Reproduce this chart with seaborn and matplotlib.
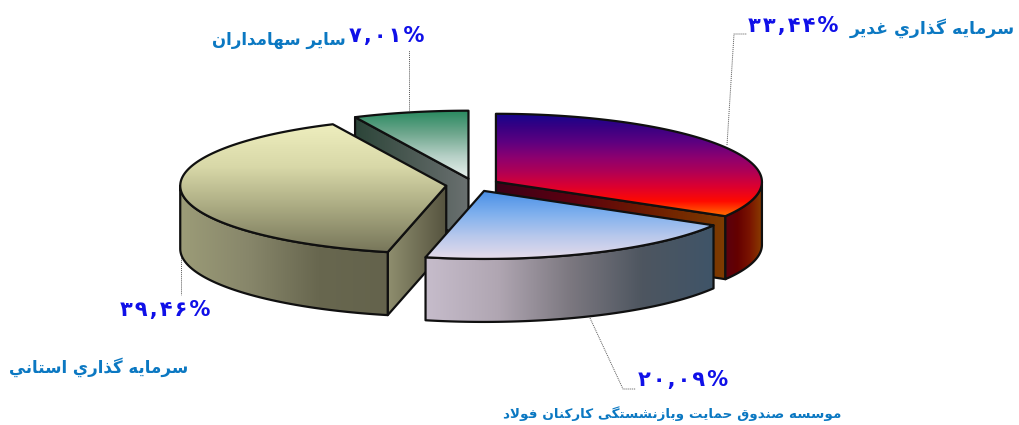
import numpy as np
import seaborn as sns
import matplotlib.pyplot as plt
from matplotlib.patches import Polygon

# shares clockwise from 12 o'clock
names = ['سرمايه گذاري غدير', 'موسسه صندوق حمایت وبازنشستگی کارکنان فولاد', 'سرمايه گذاري استاني', 'سایر سهامداران']
shares = [33.44, 20.09, 39.46, 7.01]
pct_labels = ['۳۳,۴۴%', '۲۰,۰۹%', '۳۹,۴۶%', '۷,۰۱%']

top_colors = [
    ['#14058c', '#3a0082', '#5e0080', '#8c0070', '#b00055', '#dc0030', '#ff0a00', '#ff7000'],
    ['#4a8fe6', '#7fb0ee', '#b8c8ec', '#e6dcea'],
    ['#eeeebe', '#d8d8a8', '#a8a880', '#77765a'],
    ['#2a8a60', '#6fa78e', '#b6d0c6', '#eaf2ef'],
]
rim_colors = [
    ['#8a3c00', '#7a1400', '#640000', '#5a0010'],
    ['#c6bccb', '#b0a6b2', '#7c7880', '#4e5660', '#3f5468'],
    ['#9c9c78', '#87866a', '#68674f', '#64634c'],
    None,
]
face_colors = [
    ['#3c0018', '#5c0010', '#6e1c00', '#7e3c00'],
    None,
    ['#8f8e6e', '#55533f'],
    ['#2c4539', '#4c5a54', '#6a7070'],
]

# forms: isolated, final, initial, medial
forms = {
    'ا': 'ﺍﺎ', 'د': 'ﺩﺪ', 'ذ': 'ﺫﺬ', 'ر': 'ﺭﺮ', 'ز': 'ﺯﺰ', 'و': 'ﻭﻮ',
    'ب': 'ﺏﺐﺑﺒ', 'ت': 'ﺕﺖﺗﺘ', 'ح': 'ﺡﺢﺣﺤ', 'س': 'ﺱﺲﺳﺴ', 'ش': 'ﺵﺶﺷﺸ',
    'ص': 'ﺹﺺﺻﺼ', 'غ': 'ﻍﻎﻏﻐ', 'ف': 'ﻑﻒﻓﻔ', 'ق': 'ﻕﻖﻗﻘ', 'ل': 'ﻝﻞﻟﻠ',
    'م': 'ﻡﻢﻣﻤ', 'ن': 'ﻥﻦﻧﻨ', 'ه': 'ﻩﻪﻫﻬ', 'ي': 'ﻱﻲﻳﻴ', 'ی': 'ﯼﯽﯾﯿ',
    'ک': 'ﮎﮏﮐﮑ', 'گ': 'ﮒﮓﮔﮕ',
}


# matplotlib has no arabic shaping, so pick the forms and reverse by hand
def shape(txt):
    out = []
    prev_joins = False
    i = 0
    while i < len(txt):
        c = txt[i]
        if c not in forms:
            out.append(c)
            prev_joins = False
            i += 1
            continue
        nxt = txt[i + 1] if i + 1 < len(txt) else ' '
        if c == 'ل' and nxt == 'ا':
            out.append('ﻼ' if prev_joins else 'ﻻ')
            prev_joins = False
            i += 2
            continue
        joins_next = len(forms[c]) == 4 and nxt in forms
        if prev_joins and joins_next:
            out.append(forms[c][3])
        elif prev_joins:
            out.append(forms[c][1])
        elif joins_next:
            out.append(forms[c][2])
        else:
            out.append(forms[c][0])
        prev_joins = joins_next
        i += 1
    return ''.join(reversed(out))


sns.set_style('white')
plt.rcParams['font.family'] = ['DejaVu Sans']

fig = plt.figure(figsize=(10.2, 4.25), dpi=100)
ax = fig.add_axes([0, 0, 1, 1])

cx, cy = 474, 185
rx, ry = 266, 68
depth = 63
explode = [0.095, 0.095, 0.105, 0.095]
edge = '#101010'


def pt(a, ox, oy, r=1.0):
    a = np.radians(a)
    return ox + r * rx * np.sin(a), oy - r * ry * np.cos(a)


def fill(poly, colors, horizontal=False):
    poly = np.array(poly)
    patch = Polygon(poly, closed=True, facecolor='none', edgecolor=edge, lw=1.6, joinstyle='round', zorder=3)
    cmap = sns.blend_palette(colors, as_cmap=True)
    grad = np.linspace(0, 1, 256)
    grad = grad[None, :] if horizontal else grad[:, None]
    im = ax.imshow(grad, cmap=cmap, aspect='auto', origin='upper', zorder=3, interpolation='bilinear',
                   extent=(poly[:, 0].min(), poly[:, 0].max(), poly[:, 1].max(), poly[:, 1].min()))
    ax.add_patch(patch)
    im.set_clip_path(patch)


def draw_slice(i, start, end):
    mid = (start + end) / 2
    ox, oy = pt(mid, cx, cy, explode[i])
    ang = np.linspace(start, end, 160)
    xs, ys = pt(ang, ox, oy)
    top = [(ox, oy)] + list(zip(xs, ys))
    # radial face
    if i != 1:
        a = end if i == 0 else start
        x, y = pt(a, ox, oy)
        fill([(ox, oy), (x, y), (x, y + depth), (ox, oy + depth)], face_colors[i], True)
    # outer rim, only the part facing the viewer
    lo, hi = max(start, 90), min(end, 270)
    if lo < hi:
        ang2 = np.linspace(lo, hi, 120)
        xr, yr = pt(ang2, ox, oy)
        rim = list(zip(xr, yr)) + list(zip(xr[::-1], yr[::-1] + depth))
        colors = rim_colors[i]
        if i == 0:
            colors = colors[::-1]
        fill(rim, colors, True)
    fill(top, top_colors[i])


starts = np.cumsum([0] + shares[:-1]) * 3.6
ends = np.cumsum(shares) * 3.6
for i in [3, 0, 2, 1]:
    draw_slice(i, starts[i], ends[i])

# leader lines
leaders = [
    ([727, 734, 747], [145, 34, 34]),
    ([590, 623, 636], [318, 389, 389]),
    ([181, 181], [250, 295]),
    ([409, 409], [110, 50]),
]
for lx, ly in leaders:
    ax.plot(lx, ly, color='#555555', lw=0.7, ls=(0, (1, 1)), zorder=2)

blue = '#1010e8'
lab = '#0b78c2'
pct_pos = [(793, 26), (683, 380), (165, 310), (387, 36)]
for (px, py), p in zip(pct_pos, pct_labels):
    ax.text(px, py, '\u200a'.join(p), color=blue, fontsize=15, fontweight='bold', ha='center', va='center')
ax.text(1015, 28, shape(names[0]), color=lab, fontsize=12.5, fontweight='bold', ha='right', va='center')
ax.text(672, 414, shape(names[1]), color=lab, fontsize=9.7, fontweight='bold', ha='center', va='center')
ax.text(99, 367, shape(names[2]), color=lab, fontsize=12, fontweight='bold', ha='center', va='center')
ax.text(279, 40, shape(names[3]), color=lab, fontsize=12, fontweight='bold', ha='center', va='center')

ax.set_xlim(0, 1020)
ax.set_ylim(425, 0)
ax.axis('off')
fig.savefig('out.png', dpi=100, facecolor='white')
